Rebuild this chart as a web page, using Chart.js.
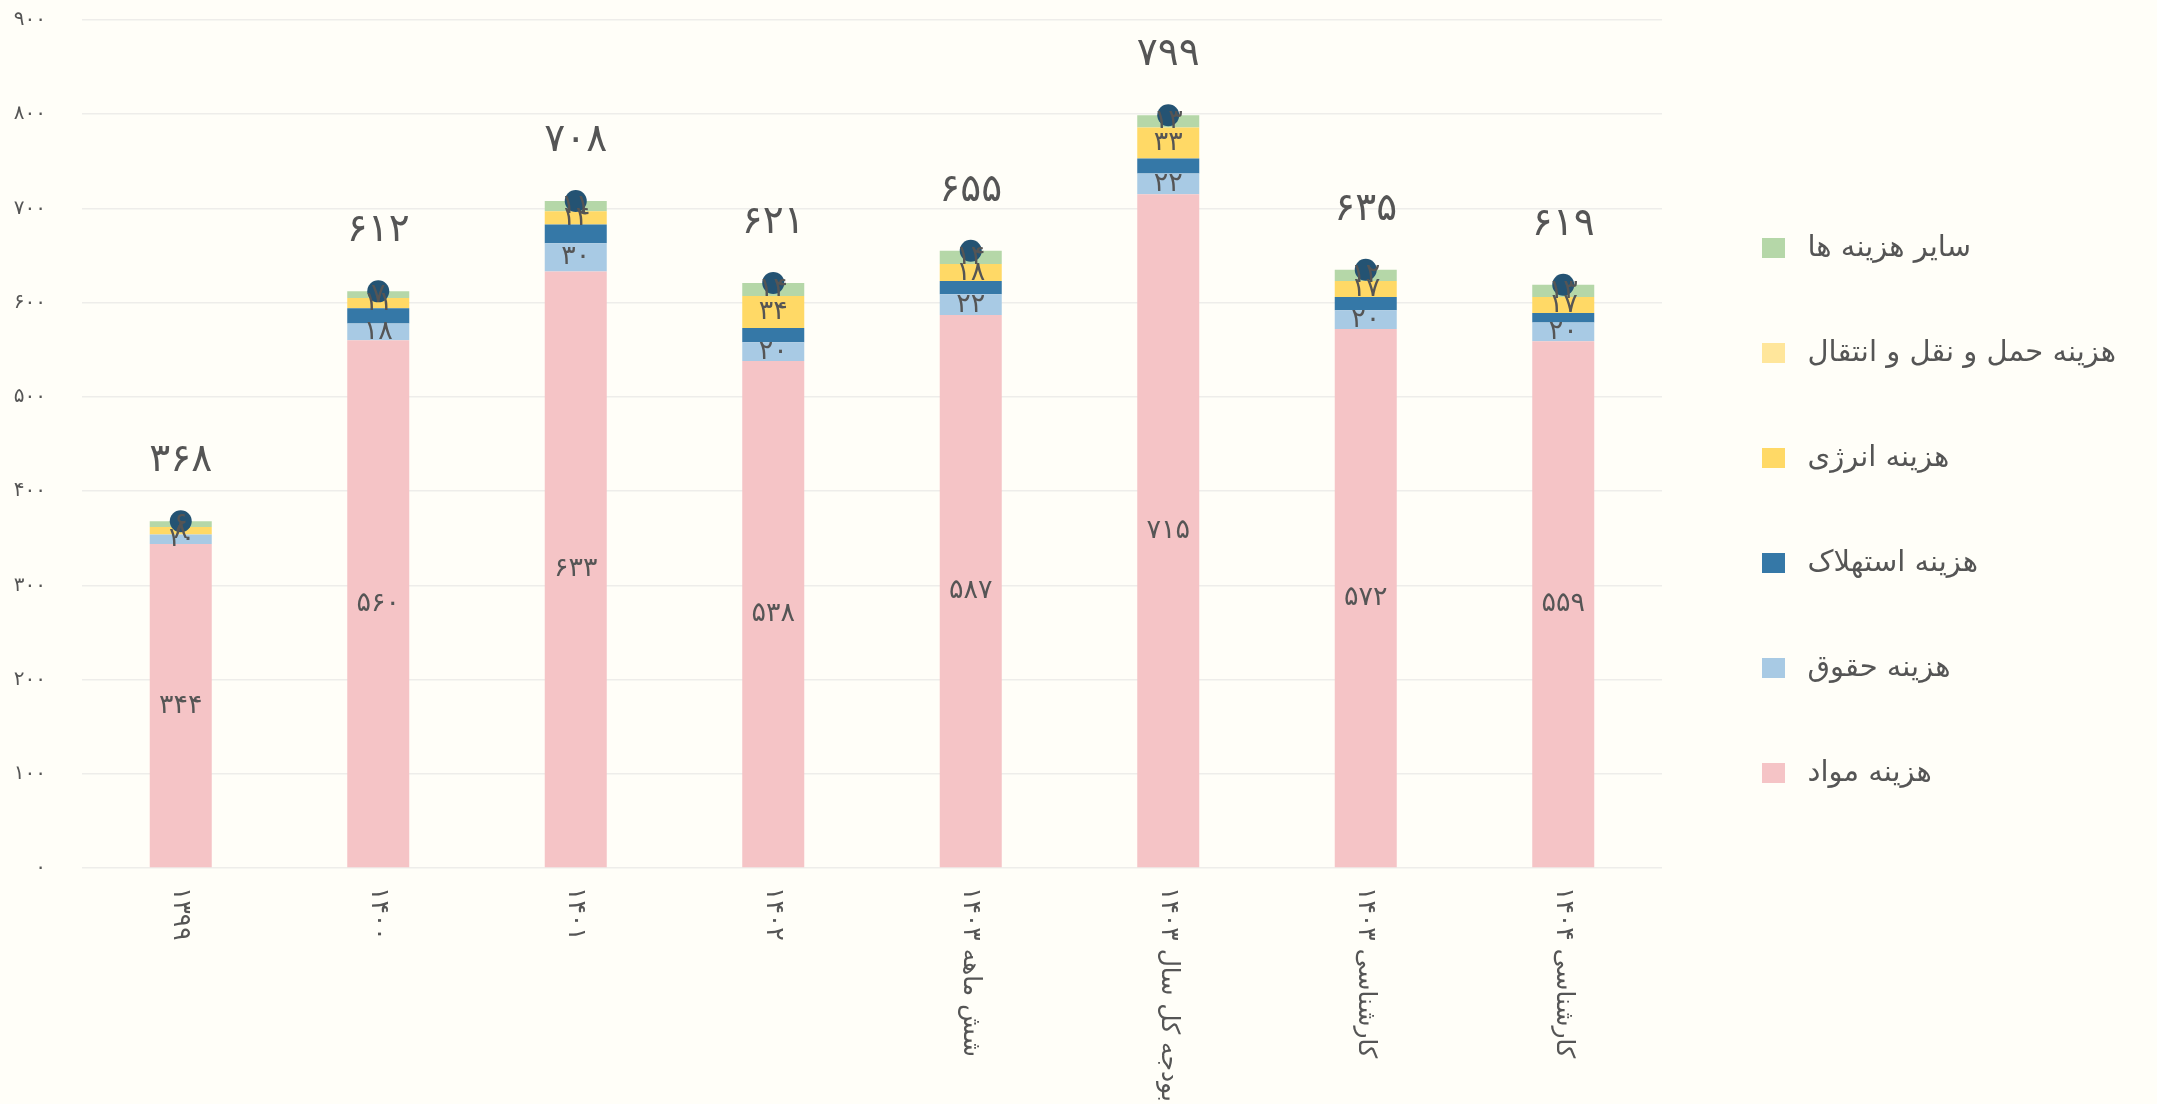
<!DOCTYPE html>
<html>
<head>
<meta charset="utf-8">
<script src="https://cdn.jsdelivr.net/npm/chart.js@4.4.1/dist/chart.umd.min.js"></script>
<style>
    html, body { margin: 0; padding: 0; background: #FFFEF8; }
    #costChart { display: block; }
</style>
</head>
<body>
<canvas id="costChart" width="2157" height="1104"></canvas>
<script>
// chart values
var categories = ['۱۳۹۹', '۱۴۰۰', '۱۴۰۱', '۱۴۰۲', 'شش ماهه ۱۴۰۳', 'بودجه کل سال ۱۴۰۳', 'کارشناسی ۱۴۰۳', 'کارشناسی ۱۴۰۴'];
var materials = [344, 560, 633, 538, 587, 715, 572, 559];
var salaries = [10, 18, 30, 20, 22, 22, 20, 20];
var depreciation = [0, 16, 20, 15, 14, 16, 14, 10];
var energy = [8, 11, 14, 34, 18, 33, 17, 17];
var transport = [0, 0, 0, 0, 0, 0, 0, 0];
var otherCosts = [6, 7, 11, 14, 14, 13, 12, 13];
var totals = [368, 612, 708, 621, 655, 799, 635, 619];
var yTicks = [0, 100, 200, 300, 400, 500, 600, 700, 800, 900];

var seriesNames = ['هزینه مواد', 'هزینه حقوق', 'هزینه استهلاک', 'هزینه انرژی', 'هزینه حمل و نقل و انتقال', 'سایر هزینه ها'];
var seriesColors = ['#F5C4C6', '#A8CAE4', '#3578A7', '#FFD966', '#FFE69B', '#B5D7A8'];

var FONT = '"DejaVu Sans", sans-serif';
var TEXT = '#555555';

function fa(n) {
    return String(n).replace(/[0-9]/g, function (d) { return '۰۱۲۳۴۵۶۷۸۹'[d]; });
}

// legend markers: a square drawn a bit in from the left of a wider strip,
// so there is room between the plot and the squares and between square and text
var legendFont = 29, legendPad = 76, markOffset = 24, markW = 23, markH = 20;
var markStrip = markOffset + markW + 8;
var legendMarks = seriesColors.map(function (c) {
    var cv = document.createElement('canvas');
    cv.width = markStrip;
    cv.height = markH;
    var g = cv.getContext('2d');
    g.fillStyle = c;
    g.fillRect(markOffset, 0, markW, markH);
    return cv;
});

// legend width, so the plot keeps its right edge where the reference has it
var mctx = document.createElement('canvas').getContext('2d');
mctx.font = legendFont + 'px ' + FONT;
var longest = 0;
seriesNames.forEach(function (n) { longest = Math.max(longest, mctx.measureText(n).width); });
var legendWidth = legendPad + markStrip + legendFont / 2 + longest + 10;
var padRight = Math.max(0, 2157 - 1662 - legendWidth);

// labels inside the bars (materials, salaries, energy, others) and totals above the dots
var valueLabels = {
    id: 'valueLabels',
    afterDatasetsDraw: function (chart) {
        var ctx = chart.ctx;
        ctx.save();
        ctx.fillStyle = TEXT;
        ctx.textAlign = 'center';
        ctx.textBaseline = 'middle';
        ctx.font = '27px ' + FONT;
        [0, 1, 3, 5].forEach(function (di) {
            var meta = chart.getDatasetMeta(di);
            meta.data.forEach(function (el, i) {
                var v = chart.data.datasets[di].data[i];
                if (!v) return;
                ctx.fillText(fa(v), el.x, (el.y + el.base) / 2);
            });
        });
        ctx.font = '39px ' + FONT;
        chart.getDatasetMeta(6).data.forEach(function (el, i) {
            ctx.fillText(fa(totals[i]), el.x, el.y - 60);
        });
        ctx.restore();
    },
    afterDraw: function (chart) {
        // category names, turned a quarter clockwise under each bar
        var ctx = chart.ctx, xs = chart.scales.x;
        ctx.save();
        ctx.fillStyle = TEXT;
        ctx.font = '25px ' + FONT;
        ctx.textAlign = 'left';
        ctx.textBaseline = 'middle';
        categories.forEach(function (c, i) {
            ctx.save();
            ctx.translate(xs.getPixelForValue(i), chart.chartArea.bottom + 19);
            ctx.rotate(Math.PI / 2);
            ctx.fillText(c, 0, 0);
            ctx.restore();
        });
        ctx.restore();
    }
};

var seriesData = [materials, salaries, depreciation, energy, transport, otherCosts];
var datasets = seriesData.map(function (d, i) {
    return {
        label: seriesNames[i],
        data: d,
        backgroundColor: seriesColors[i],
        borderWidth: 0,
        stack: 'cost',
        barPercentage: 0.314,
        categoryPercentage: 1,
        order: 2
    };
});
datasets.push({
    type: 'line',
    label: 'جمع',
    data: totals,
    showLine: false,
    pointRadius: 11,
    pointHoverRadius: 11,
    pointBackgroundColor: '#245373',
    pointBorderWidth: 0,
    order: 1
});

var ctx = document.getElementById('costChart');
var costChart = new Chart(ctx, {
    type: 'bar',
    data: { labels: categories, datasets: datasets },
    options: {
        responsive: false,
        animation: false,
        devicePixelRatio: 1,
        layout: { autoPadding: false, padding: { top: 20, right: padRight, bottom: 103, left: 0 } },
        plugins: {
            legend: {
                position: 'right',
                align: 'center',
                reverse: true,
                labels: {
                    filter: function (item) { return item.datasetIndex < 6; },
                    generateLabels: function (chart) {
                        var items = Chart.defaults.plugins.legend.labels.generateLabels(chart);
                        items.forEach(function (it) {
                            if (it.datasetIndex < 6) it.pointStyle = legendMarks[it.datasetIndex];
                        });
                        return items;
                    },
                    usePointStyle: true,
                    pointStyleWidth: markStrip,
                    boxHeight: markH,
                    padding: legendPad,
                    color: TEXT,
                    font: { family: FONT, size: legendFont }
                }
            },
            tooltip: { enabled: false }
        },
        scales: {
            x: {
                stacked: true,
                grid: { display: false },
                border: { display: false },
                ticks: { display: false },
                afterFit: function (scale) { scale.height = 133; }
            },
            y: {
                stacked: true,
                min: 0,
                max: 900,
                afterBuildTicks: function (scale) {
                    scale.ticks = yTicks.map(function (v) { return { value: v }; });
                },
                ticks: {
                    padding: 4,
                    color: TEXT,
                    font: { family: FONT, size: 20 },
                    callback: function (v) { return fa(v); }
                },
                grid: { color: '#EEEDEA', lineWidth: 1.5, drawTicks: true, tickLength: 32, tickColor: 'rgba(0,0,0,0)' },
                border: { display: false },
                afterFit: function (scale) { scale.width = 82; }
            }
        }
    },
    plugins: [valueLabels]
});
</script>
</body>
</html>
